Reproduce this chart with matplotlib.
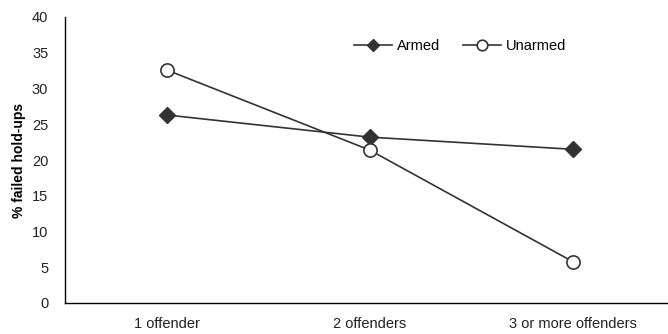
import matplotlib
matplotlib.use("Agg")
import matplotlib.pyplot as plt

categories = ["1 offender", "2 offenders", "3 or more offenders"]
armed = [26.3, 23.2, 21.5]
unarmed = [32.6, 21.4, 5.8]

plt.rcParams['font.family'] = ['Liberation Sans', 'DejaVu Sans']

fig = plt.figure(figsize=(6.68, 3.34), dpi=100)
ax = fig.add_axes([65/668, 31/334, 1 - 65/668, 286/334])
x = list(range(len(categories)))
c = '#333333'
ax.plot(x, armed, color=c, lw=1.2, marker='D', markersize=8,
        markerfacecolor=c, markeredgecolor=c, label='Armed')
ax.plot(x, unarmed, color=c, lw=1.2, marker='o', markersize=9.5,
        markerfacecolor='white', markeredgecolor=c, markeredgewidth=1.2, label='Unarmed')

ax.set_xlim(-0.5, 2.47)
ax.set_ylim(0, 40)
ax.set_yticks(range(0, 41, 5))
ax.set_xticks(x)
ax.set_xticklabels(categories)
ax.tick_params(axis='both', length=0, labelsize=10.5, colors='#222222')
ax.tick_params(axis='x', pad=10)
ax.tick_params(axis='y', pad=12)
for s in ['top', 'right']:
    ax.spines[s].set_visible(False)
for s in ['left', 'bottom']:
    ax.spines[s].set_color('black')
    ax.spines[s].set_linewidth(1.0)
ax.set_ylabel('% failed hold-ups', fontsize=10, fontweight='bold', labelpad=4)

ax.legend(loc='upper left', bbox_to_anchor=(0.458, 0.97), ncol=2, frameon=False,
          fontsize=10.5, handlelength=2.6, columnspacing=1.6, handletextpad=0.3,
          markerscale=0.8)

fig.savefig('out.png', dpi=100)
